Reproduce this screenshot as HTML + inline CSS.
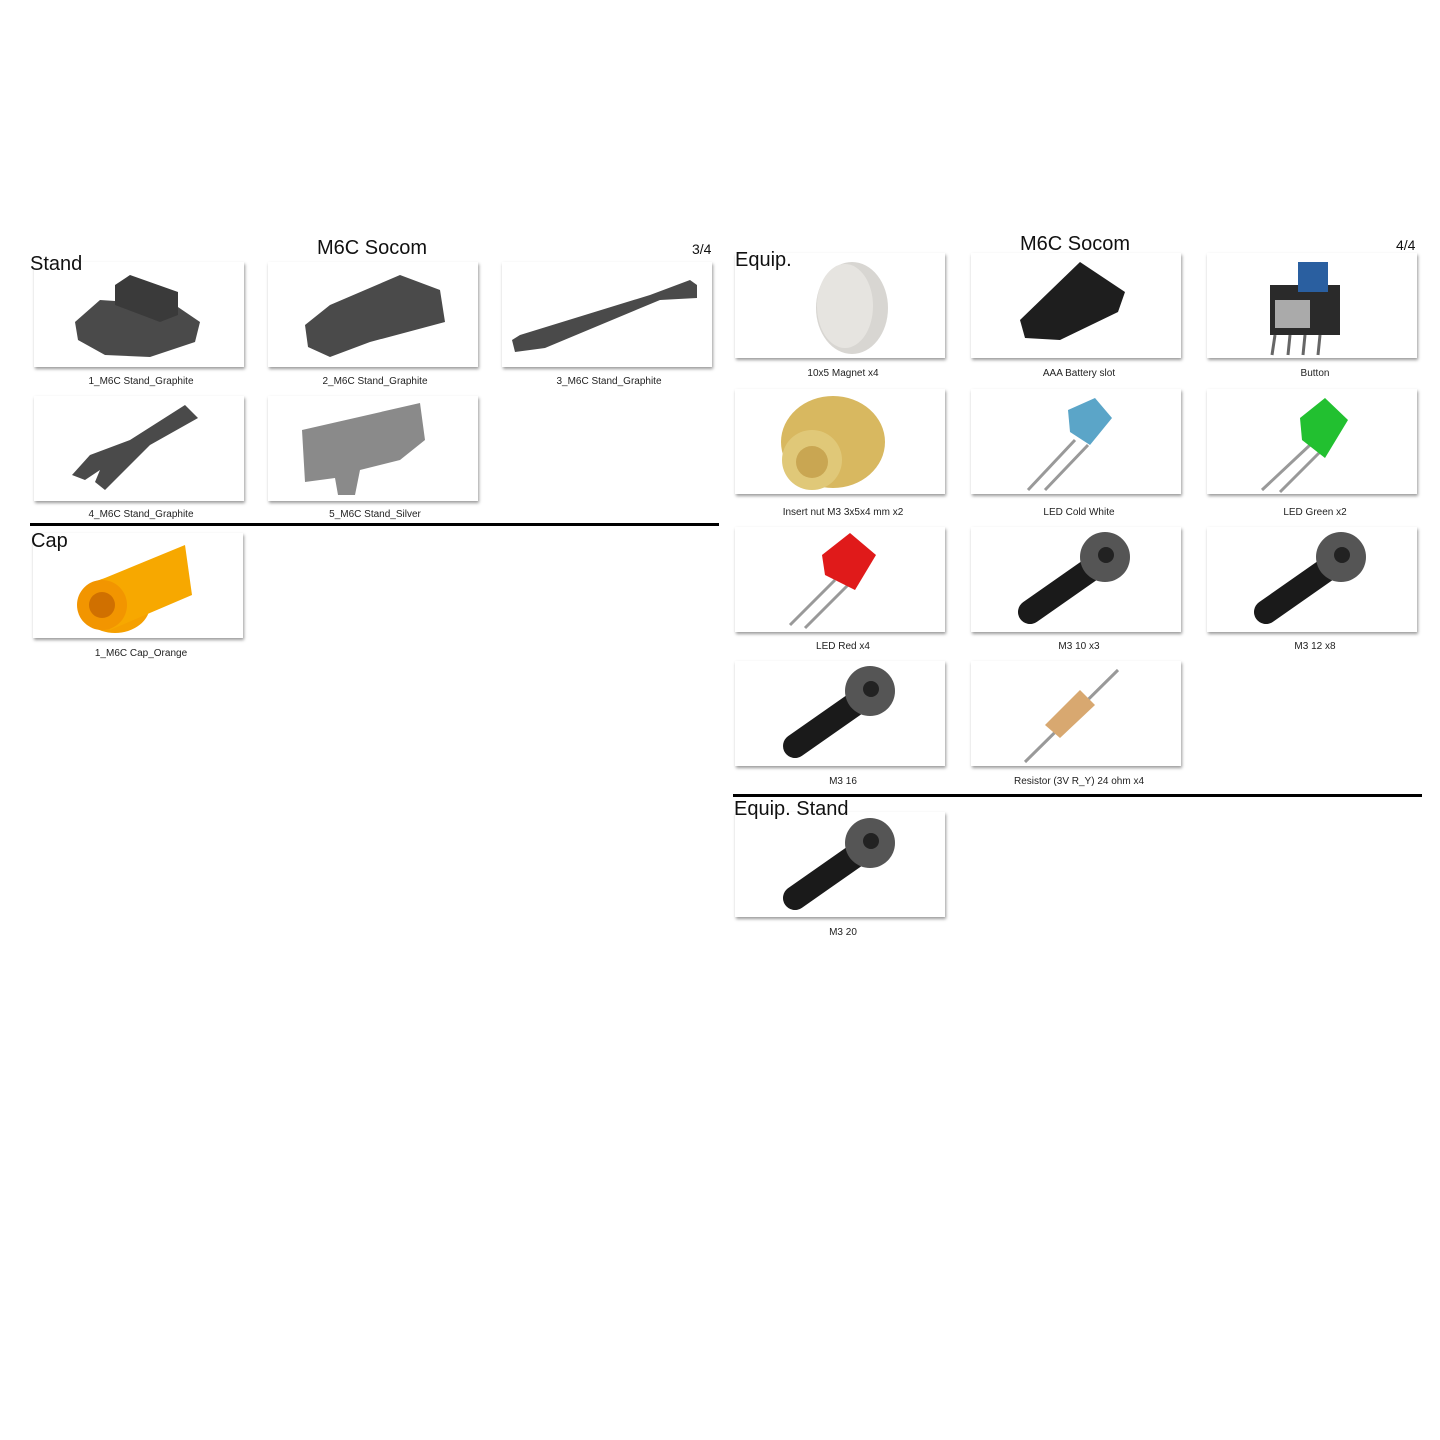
<!DOCTYPE html>
<html><head><meta charset="utf-8"><style>
body{margin:0;width:1440px;height:1440px;background:#fff;position:relative;font-family:"Liberation Sans",sans-serif;overflow:hidden}
.c{position:absolute;width:210px;height:105px;background:#fff;box-shadow:1px 2px 3px rgba(0,0,0,.4)}
.l{position:absolute;width:210px;text-align:center;font-size:10px;color:#222}
.t{position:absolute;color:#111;z-index:3;line-height:1}
.hr{position:absolute;height:3px;background:#000}
svg{position:absolute;left:0;top:0;z-index:1}
</style></head><body>
<div class="t" style="left:317px;top:238px;font-size:20px">M6C Socom</div>
<div class="t" style="left:692px;top:242px;font-size:14px">3/4</div>
<div class="t" style="left:30px;top:254px;font-size:20px">Stand</div>
<div class="c" style="left:34px;top:262px"></div><div class="l" style="left:36px;top:376px">1_M6C Stand_Graphite</div>
<div class="c" style="left:268px;top:262px"></div><div class="l" style="left:270px;top:376px">2_M6C Stand_Graphite</div>
<div class="c" style="left:502px;top:262px"></div><div class="l" style="left:504px;top:376px">3_M6C Stand_Graphite</div>
<div class="c" style="left:34px;top:396px"></div><div class="l" style="left:36px;top:509px">4_M6C Stand_Graphite</div>
<div class="c" style="left:268px;top:396px"></div><div class="l" style="left:270px;top:509px">5_M6C Stand_Silver</div>
<div class="hr" style="left:30px;top:523px;width:689px"></div>
<div class="t" style="left:31px;top:531px;font-size:20px">Cap</div>
<div class="c" style="left:33px;top:533px"></div><div class="l" style="left:36px;top:648px">1_M6C Cap_Orange</div>

<div class="t" style="left:1020px;top:234px;font-size:20px">M6C Socom</div>
<div class="t" style="left:1396px;top:238px;font-size:14px">4/4</div>
<div class="t" style="left:735px;top:250px;font-size:20px">Equip.</div>
<div class="c" style="left:735px;top:253px"></div><div class="l" style="left:738px;top:368px">10x5 Magnet x4</div>
<div class="c" style="left:971px;top:253px"></div><div class="l" style="left:974px;top:368px">AAA Battery slot</div>
<div class="c" style="left:1207px;top:253px"></div><div class="l" style="left:1210px;top:368px">Button</div>
<div class="c" style="left:735px;top:389px"></div><div class="l" style="left:738px;top:507px">Insert nut M3 3x5x4 mm x2</div>
<div class="c" style="left:971px;top:389px"></div><div class="l" style="left:974px;top:507px">LED Cold White</div>
<div class="c" style="left:1207px;top:389px"></div><div class="l" style="left:1210px;top:507px">LED Green x2</div>
<div class="c" style="left:735px;top:527px"></div><div class="l" style="left:738px;top:641px">LED Red x4</div>
<div class="c" style="left:971px;top:527px"></div><div class="l" style="left:974px;top:641px">M3 10 x3</div>
<div class="c" style="left:1207px;top:527px"></div><div class="l" style="left:1210px;top:641px">M3 12 x8</div>
<div class="c" style="left:735px;top:661px"></div><div class="l" style="left:738px;top:776px">M3 16</div>
<div class="c" style="left:971px;top:661px"></div><div class="l" style="left:974px;top:776px">Resistor (3V R_Y) 24 ohm x4</div>
<div class="hr" style="left:733px;top:794px;width:689px"></div>
<div class="t" style="left:734px;top:799px;font-size:20px">Equip. Stand</div>
<div class="c" style="left:735px;top:812px"></div><div class="l" style="left:738px;top:927px">M3 20</div>

<svg width="1440" height="1440">
<g fill="#4a4a4a">
<polygon points="75,322 100,300 175,305 200,322 195,342 150,357 105,355 78,340"/>
<polygon points="115,285 130,275 178,292 178,315 160,322 115,305" fill="#3a3a3a"/>
<polygon points="305,325 330,305 400,275 440,290 445,322 370,342 330,357 308,347"/>
<polygon points="512,340 520,335 650,295 690,280 697,285 697,298 660,300 545,348 515,352"/>
<polygon points="72,475 90,455 130,440 185,405 198,418 150,445 105,490 95,482 100,470 85,480"/>
<polygon points="302,430 420,403 425,440 400,460 360,470 355,495 338,495 335,478 305,482" fill="#8a8a8a"/>
</g>
<ellipse cx="115" cy="605" rx="35" ry="28" fill="#f5a000"/>
<polygon points="100,580 185,545 192,595 110,630" fill="#f7a800"/>
<circle cx="102" cy="605" r="25" fill="#f29500"/><circle cx="102" cy="605" r="13" fill="#d07000"/>
<ellipse cx="852" cy="308" rx="36" ry="46" fill="#d8d6d2"/><ellipse cx="845" cy="306" rx="28" ry="42" fill="#e6e4e0"/>
<polygon points="1020,320 1080,262 1125,292 1118,312 1060,340 1025,338" fill="#1e1e1e"/>
<rect x="1270" y="285" width="70" height="50" fill="#2a2a2a"/><rect x="1275" y="300" width="35" height="28" fill="#aaa"/>
<rect x="1298" y="262" width="30" height="30" fill="#2a5fa0"/>
<g stroke="#666" stroke-width="3"><line x1="1275" y1="335" x2="1272" y2="355"/><line x1="1290" y1="335" x2="1288" y2="355"/><line x1="1305" y1="335" x2="1303" y2="355"/><line x1="1320" y1="335" x2="1318" y2="355"/></g>
<ellipse cx="833" cy="442" rx="52" ry="46" fill="#d8b860"/><circle cx="812" cy="460" r="30" fill="#e0c878"/><circle cx="812" cy="462" r="16" fill="#c9a652"/>
<g stroke="#999" stroke-width="3"><line x1="1075" y1="440" x2="1028" y2="490"/><line x1="1088" y1="445" x2="1045" y2="490"/>
<line x1="1310" y1="445" x2="1262" y2="490"/><line x1="1322" y1="450" x2="1280" y2="492"/>
<line x1="835" y1="580" x2="790" y2="625"/><line x1="848" y1="585" x2="805" y2="628"/>
<line x1="1025" y1="762" x2="1118" y2="670"/></g>
<polygon points="1068,410 1095,398 1112,418 1090,445 1070,432" fill="#5ba5c8"/>
<polygon points="1300,418 1325,398 1348,420 1325,458 1302,440" fill="#22c030"/>
<polygon points="822,555 850,533 876,555 855,590 825,575" fill="#e01a1a"/>
<g stroke="#1a1a1a" stroke-width="24" stroke-linecap="round">
<line x1="1030" y1="612" x2="1090" y2="570"/><line x1="1266" y1="612" x2="1326" y2="570"/>
<line x1="795" y1="746" x2="855" y2="704"/><line x1="795" y1="898" x2="855" y2="856"/></g>
<g fill="#555"><circle cx="1105" cy="557" r="25"/><circle cx="1341" cy="557" r="25"/><circle cx="870" cy="691" r="25"/><circle cx="870" cy="843" r="25"/></g>
<g fill="#222"><circle cx="1106" cy="555" r="8"/><circle cx="1342" cy="555" r="8"/><circle cx="871" cy="689" r="8"/><circle cx="871" cy="841" r="8"/></g>
<polygon points="1045,725 1080,690 1095,705 1060,738" fill="#d8a870"/>
</svg>
</body></html>
